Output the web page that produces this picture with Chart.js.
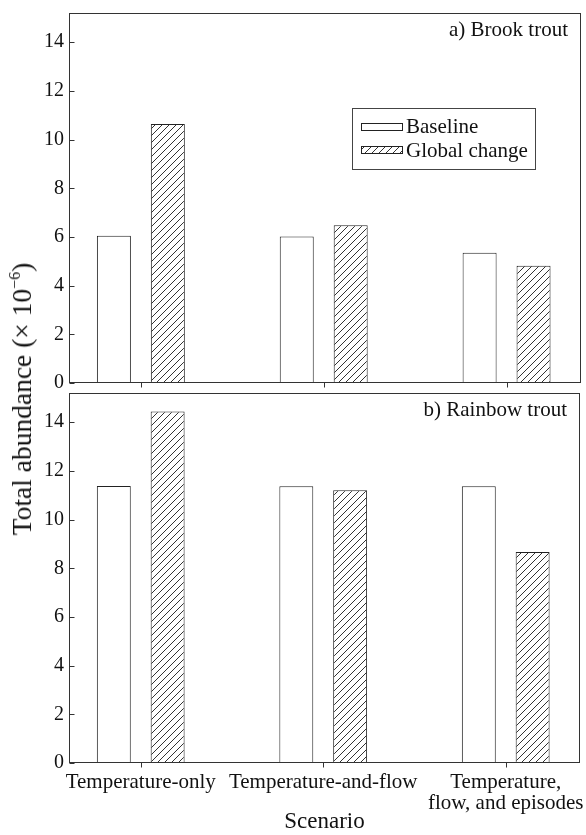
<!DOCTYPE html>
<html><head><meta charset="utf-8">
<script src="https://cdn.jsdelivr.net/npm/chart.js@4/dist/chart.umd.min.js"></script>
<style>
html,body{margin:0;padding:0;background:#fff;width:586px;height:835px;overflow:hidden}
canvas{position:absolute;left:0}
#c1{top:0}
#c2{top:388px}
#ytitle{position:absolute;left:22px;top:399px;transform:translate(-50%,-50%) rotate(-90deg);white-space:nowrap;font:27.5px "Liberation Serif",serif;color:#111}
#ytitle sup{font-size:16px;vertical-align:11px;line-height:0}
</style></head><body>
<canvas id="c1" width="586" height="395" style="width:586px;height:395px"></canvas>
<canvas id="c2" width="586" height="447" style="width:586px;height:447px"></canvas>
<div id="ytitle">Total abundance (× 10<sup>−6</sup>)</div>
<script>
// ---- data ----
const scenarios = ['Temperature-only', 'Temperature-and-flow', ['Temperature,', 'flow, and episodes']];
const scenarioPos = [1, 2, 3];
const seriesNames = ['Baseline', 'Global change'];
const brookBaseline = [6.05, 6.02, 5.35];
const brookGlobal = [10.64, 6.48, 4.82];
const rainbowBaseline = [11.38, 11.37, 11.37];
const rainbowGlobal = [14.44, 11.2, 8.67];
const yTicks = [0, 2, 4, 6, 8, 10, 12, 14];
const panelTitles = ['a) Brook trout', 'b) Rainbow trout'];
const xAxisTitle = 'Scenario';

const SERIF = '"Liberation Serif", "Times New Roman", serif';
const INK = '#222';

const hatch = (() => {
  const s = 7, c = document.createElement('canvas');
  c.width = s; c.height = s;
  const g = c.getContext('2d');
  g.fillStyle = '#fff'; g.fillRect(0, 0, s, s);
  g.strokeStyle = '#333'; g.lineWidth = 1;
  g.beginPath();
  g.moveTo(0, s); g.lineTo(s, 0);
  g.moveTo(-1, 1); g.lineTo(1, -1);
  g.moveTo(s - 1, s + 1); g.lineTo(s + 1, s - 1);
  g.stroke();
  return g.createPattern(c, 'repeat');
})();

function makeData(base, glob) {
  return {
    datasets: [
      { label: seriesNames[0], data: scenarioPos.map((x, i) => ({ x, y: base[i] })),
        backgroundColor: '#fff', borderColor: INK, borderWidth: 1,
        categoryPercentage: 0.59, barPercentage: 0.63 },
      { label: seriesNames[1], data: scenarioPos.map((x, i) => ({ x, y: glob[i] })),
        backgroundColor: hatch, borderColor: INK, borderWidth: 1,
        categoryPercentage: 0.59, barPercentage: 0.63 }
    ]
  };
}

const framePlugin = {
  id: 'frame',
  afterDatasetsDraw(chart, args, opts) {
    const { ctx, chartArea: a, scales: { x, y } } = chart;
    ctx.save();
    ctx.strokeStyle = '#333'; ctx.lineWidth = 1;
    const L = Math.round(a.left) + 0.5, T = Math.round(a.top) + 0.5;
    const R = Math.round(a.right) - 0.5, B = Math.round(a.bottom) - 0.5;
    ctx.strokeRect(L, T, R - L, B - T);
    ctx.beginPath();
    y.ticks.forEach(t => {
      const py = Math.round(y.getPixelForValue(t.value)) + 0.5;
      ctx.moveTo(L, py); ctx.lineTo(L + 5, py);
    });
    x.ticks.forEach(t => {
      const px = Math.round(x.getPixelForValue(t.value)) + 0.5;
      ctx.moveTo(px, B); ctx.lineTo(px, B + 5);
    });
    ctx.stroke();
    ctx.fillStyle = '#111';
    ctx.font = '21px ' + SERIF;
    ctx.textAlign = 'right'; ctx.textBaseline = 'alphabetic';
    ctx.fillText(opts.title, a.right - 13, a.top + 23);
    if (opts.legend) {
      ctx.strokeStyle = '#444';
      ctx.strokeRect(352.5, 108.5, 183, 61);
      const ds = chart.data.datasets;
      const rows = [{ y: 123, ty: 133 }, { y: 146, ty: 157 }];
      ds.forEach((d, i) => {
        ctx.fillStyle = d.backgroundColor;
        ctx.fillRect(361, rows[i].y, 42, 8);
        ctx.strokeStyle = INK;
        ctx.strokeRect(361.5, rows[i].y + 0.5, 41, 7);
        ctx.fillStyle = '#111';
        ctx.textAlign = 'left';
        ctx.fillText(d.label, 406, rows[i].ty);
      });
    }
    ctx.restore();
  }
};

function makeOptions(idx, showX, legend, xHeight) {
  return {
    responsive: false, animation: false, devicePixelRatio: 1,
    layout: { padding: { top: idx === 0 ? 13 : 5, right: idx === 0 ? 5 : 6, left: 0, bottom: 0 } },
    plugins: { legend: { display: false }, tooltip: { enabled: false },
      frame: { title: panelTitles[idx], legend } },
    scales: {
      x: {
        type: 'linear', min: 0.607, max: 3.407, offset: false,
        grid: { display: false, drawTicks: false, offset: false }, border: { display: false },
        afterBuildTicks: s => { s.ticks = scenarioPos.map(v => ({ value: v })); },
        afterFit: s => { s.height = xHeight; s.paddingLeft = 0; s.paddingRight = 0; },
        ticks: {
          display: showX, autoSkip: false, maxRotation: 0, minRotation: 0, padding: 9,
          color: '#111', font: { family: SERIF, size: 21, lineHeight: 1.0 },
          callback: v => { const i = scenarioPos.indexOf(v); return i >= 0 ? scenarios[i] : ''; }
        },
        title: { display: showX, text: xAxisTitle, color: '#111',
          font: { family: SERIF, size: 23, lineHeight: 1 }, padding: { top: 2, bottom: 2 } }
      },
      y: {
        min: 0, max: 15.2,
        grid: { display: false, drawTicks: false }, border: { display: false },
        afterBuildTicks: s => { s.ticks = yTicks.map(v => ({ value: v })); },
        afterFit: s => { s.width = 69; s.paddingTop = 0; s.paddingBottom = 0; },
        ticks: { padding: 5, color: '#111', font: { family: SERIF, size: 20 } }
      }
    }
  };
}

new Chart(document.getElementById('c1'), {
  type: 'bar', data: makeData(brookBaseline, brookGlobal),
  options: makeOptions(0, false, true, 12), plugins: [framePlugin]
});
new Chart(document.getElementById('c2'), {
  type: 'bar', data: makeData(rainbowBaseline, rainbowGlobal),
  options: makeOptions(1, true, false, 72), plugins: [framePlugin]
});
</script>
</body></html>
